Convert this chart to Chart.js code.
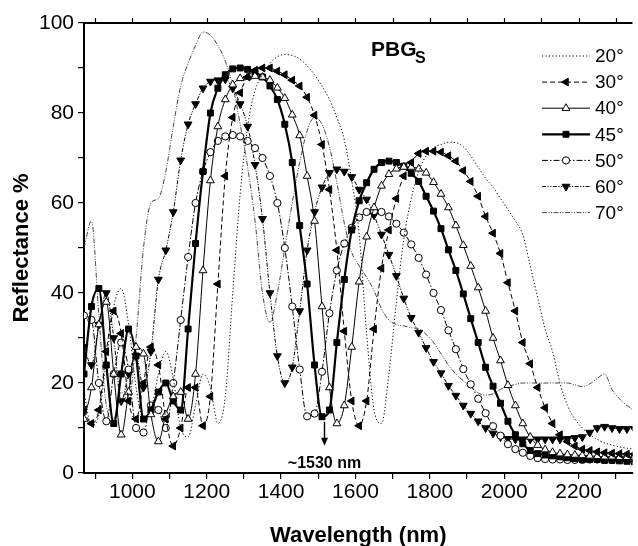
<!DOCTYPE html>
<html>
<head>
<meta charset="utf-8">
<script src="https://cdn.jsdelivr.net/npm/chart.js@4"></script>
<style>
html, body { margin: 0; padding: 0; background: #fff; }
#wrap { width: 638px; height: 546px; }
</style>
</head>
<body>
<div id="wrap"><canvas id="chart" width="638" height="546"></canvas></div>
<script>
// wavelength grid (nm) shared by all curves
const wavelengths = [870, 890, 910, 930, 950, 970, 990, 1010, 1030, 1050,
    1070, 1090, 1110, 1130, 1150, 1170, 1190, 1210, 1230, 1250,
    1270, 1290, 1310, 1330, 1350, 1370, 1390, 1410, 1430, 1450,
    1470, 1490, 1510, 1530, 1550, 1570, 1590, 1610, 1630, 1650,
    1670, 1690, 1710, 1730, 1750, 1770, 1790, 1810, 1830, 1850,
    1870, 1890, 1910, 1930, 1950, 1970, 1990, 2010, 2030, 2050,
    2070, 2090, 2110, 2130, 2150, 2170, 2190, 2210, 2230, 2250,
    2270, 2290, 2310, 2330, 2350];

const r20 = [18, 10.5, 13, 25, 37, 41, 33, 19, 12, 14,
    22, 27, 21, 10, 8, 15, 22, 19, 11, 17,
    40, 62, 77, 85, 88.5, 91, 92.5, 93, 92.8, 92,
    90.5, 88.5, 86, 83, 79, 74, 65, 53, 31, 14,
    11, 22, 38, 52, 61, 67, 70.5, 72.3, 73, 73.5,
    73.4, 72.5, 70.5, 68, 65.5, 63.5, 61, 58.5, 56, 53,
    46, 39, 32, 27, 20, 15, 12, 10, 8.5, 7.5,
    6.7, 6.2, 5.8, 5.5, 5.3];

const r30 = [14, 11, 14, 27, 36, 31, 16, 12, 20, 28,
    24, 12, 6, 10, 19, 19, 10.5, 17, 42, 66,
    79, 84.5, 88, 89.5, 90, 90, 89.3, 88.5, 87.3, 86,
    83.5, 79.5, 73, 63, 49.5, 31.5, 16, 10.5, 16, 32,
    45.5, 54, 61, 66, 69, 71, 71.5, 71.5, 71.3, 70.5,
    69.3, 67.2, 64.8, 61.5, 57, 53.3, 48.8, 42.3, 36, 29,
    24.3, 19, 14.5, 11, 8.5, 7, 6, 5.3, 5, 4.7,
    4.5, 4.4, 4.3, 4.2, 4.2];

const r40 = [12, 19, 33, 38, 22, 8.5, 18, 28, 26.5, 13,
    7, 13, 17, 18, 12, 22, 45, 65, 77, 83,
    86.3, 87.7, 88, 88.2, 88, 87.3, 85.6, 83.3, 79.6, 75,
    66, 56, 37, 19, 11, 15, 28, 42.5, 52.5, 59,
    63.8, 66.4, 67.6, 68, 68, 67.6, 66.7, 64.6, 62, 59,
    55, 50.6, 46, 41.2, 36, 30, 25, 19.5, 15, 11,
    8, 6.2, 5.2, 4.6, 4.3, 4.1, 4, 3.9, 3.8, 3.7,
    3.6, 3.6, 3.5, 3.5, 3.5];

const r45 = [22, 37, 41, 24, 11, 22, 32, 26, 12, 14,
    18, 20, 16, 14, 32, 51, 67, 80, 85.5, 88.5,
    89.8, 90, 89.7, 89, 88, 86, 83, 77.5, 69, 55,
    42, 24, 12.5, 14, 29, 43, 54, 60.5, 64.5, 67.5,
    69, 69.3, 69, 68.2, 66.6, 64.8, 61.5, 58.2, 54.3, 49.6,
    45, 39.8, 34.3, 29, 23.5, 19.3, 15.5, 11.5, 8.5, 6.5,
    5, 4.3, 4, 3.8, 3.6, 3.4, 3.2, 3, 3, 3,
    2.8, 2.8, 2.7, 2.6, 2.5];

const r50 = [35, 34, 20, 11.5, 22, 29, 23, 10, 9, 15,
    14, 10, 20, 34, 48, 60, 67, 71.3, 73.8, 74.8,
    75.1, 74.8, 73.8, 72.2, 70, 66, 60, 50, 37, 23,
    12.6, 13.2, 22.5, 35.5, 45, 51, 54.5, 56.8, 58, 58.2,
    58, 57, 55.4, 53.4, 50.8, 47.8, 44.1, 40, 36.2, 31.7,
    27.5, 23.1, 19.7, 16.5, 13.3, 10.4, 8.3, 6.4, 5.3, 4.5,
    3.8, 3.3, 3.1, 3, 3, 2.9, 2.9, 2.9, 3, 3,
    3, 3.1, 3.2, 3.3, 3.4];

const r60 = [28, 24, 33, 40, 30, 16, 22, 26, 19, 27,
    43, 49.5, 58, 69.5, 77.5, 82, 85.5, 87, 87.3, 87.5,
    85.5, 82, 77, 68.5, 56.5, 40, 26, 20, 23.5, 36,
    49.5, 58, 63.5, 66.7, 67.5, 67, 65.8, 63, 60.8, 57.3,
    53, 48.5, 43.8, 38.8, 34.5, 31.2, 27.8, 24.7, 22.2, 19.4,
    17.2, 15, 13.2, 11.5, 10, 8.8, 8, 7.6, 7.5, 7.5,
    7.5, 7.5, 7.5, 7.5, 7.5, 7.6, 7.8, 8, 9, 10,
    10.3, 10, 9.8, 9.8, 9.8];

const r70 = [50, 56, 35, 15, 12, 18, 16, 30, 50, 60,
    61, 67, 77, 86, 91, 95, 98, 97.3, 95, 91.5,
    86, 77.5, 68, 56, 40, 33.5, 40, 50, 60, 69,
    76, 79, 77.5, 72.5, 64.5, 55.5, 49, 46, 43.5, 40.5,
    36.5, 34, 33, 32.7, 32.3, 32, 30.8, 29, 26.5, 24,
    22, 20.5, 19.2, 17.8, 17.3, 17.6, 18.6, 19.2, 19.7, 20,
    20, 20, 20, 20, 20, 20, 19.6, 19.2, 19.8, 21,
    22, 18.5, 16.5, 15, 13.8];

const angleLabels = ['20°', '30°', '40°', '45°', '50°', '60°', '70°'];
const xTickLabels = [1000, 1200, 1400, 1600, 1800, 2000, 2200];
const yTickLabels = [0, 20, 40, 60, 80, 100];
const minimumLabel = '~1530 nm';
const minimumAt = 1515;
const minimumValue = 12.5;

const FONT = '"Liberation Sans", Arial, Helvetica, sans-serif';

function toPoints(values) {
    return wavelengths.map((w, i) => ({ x: w, y: values[i] }));
}

function makeSet(label, values, style) {
    return Object.assign({
        label: label,
        data: toPoints(values),
        borderColor: '#000',
        backgroundColor: '#000',
        borderWidth: 1,
        pointRadius: 0,
        pointBorderColor: '#000',
        pointBorderWidth: 1,
        pointBackgroundColor: '#000',
        cubicInterpolationMode: 'monotone',
        fill: false
    }, style);
}

const datasets = [
    makeSet(angleLabels[0], r20, { borderDash: [1.2, 2.2], borderWidth: 1 }),
    makeSet(angleLabels[1], r30, { borderDash: [5, 3], pointStyle: 'triangle', pointRotation: 270, pointRadius: 4.5 }),
    makeSet(angleLabels[2], r40, { pointStyle: 'triangle', pointRadius: 4.5, pointBackgroundColor: '#fff' }),
    makeSet(angleLabels[3], r45, { borderWidth: 2.2, pointStyle: 'rect', pointRadius: 4.2 }),
    makeSet(angleLabels[4], r50, { borderDash: [6, 2, 1.5, 2], pointStyle: 'circle', pointRadius: 3.6, pointBackgroundColor: '#fff' }),
    makeSet(angleLabels[5], r60, { borderDash: [4, 1.5, 1.2, 1.5, 1.2, 1.5], pointStyle: 'triangle', pointRotation: 180, pointRadius: 4.5 }),
    makeSet(angleLabels[6], r70, { borderDash: [5, 1.5, 1, 1.5, 1, 1.5], borderWidth: 0.9, borderColor: '#333' })
];

// frame, top ticks, legend, labels
const decorations = {
    id: 'decorations',
    afterDraw(chart) {
        const { ctx, chartArea: a, scales: { x, y } } = chart;
        ctx.save();
        ctx.strokeStyle = '#000';
        ctx.lineWidth = 2;
        ctx.beginPath();
        ctx.moveTo(a.left, a.top);
        ctx.lineTo(a.right, a.top);
        ctx.stroke();
        ctx.lineWidth = 1.2;
        ctx.beginPath();
        for (let v = 900; v <= 2300; v += 100) {
            const px = Math.round(x.getPixelForValue(v)) + 0.5;
            ctx.moveTo(px, a.top);
            ctx.lineTo(px, a.top - 5);
        }
        ctx.stroke();

        // legend
        const rowY0 = 56, rowStep = 26.1;
        chart.data.datasets.forEach((ds, i) => {
            const ry = rowY0 + i * rowStep;
            ctx.save();
            ctx.strokeStyle = ds.borderColor;
            ctx.lineWidth = ds.borderWidth;
            ctx.setLineDash(ds.borderDash || []);
            ctx.beginPath();
            ctx.moveTo(542, ry);
            ctx.lineTo(590, ry);
            ctx.stroke();
            ctx.setLineDash([]);
            if (ds.pointRadius > 0) {
                ctx.fillStyle = ds.pointBackgroundColor;
                ctx.strokeStyle = '#000';
                ctx.lineWidth = 1;
                Chart.helpers.drawPoint(ctx, {
                    pointStyle: ds.pointStyle,
                    rotation: ds.pointRotation || 0,
                    radius: ds.pointRadius,
                    borderWidth: 1
                }, 566, ry);
            }
            ctx.restore();
            ctx.fillStyle = '#000';
            ctx.font = '19px ' + FONT;
            ctx.textBaseline = 'middle';
            ctx.textAlign = 'left';
            ctx.fillText(ds.label, 595, ry + 1);
        });

        // PBG_S
        ctx.fillStyle = '#000';
        ctx.textBaseline = 'alphabetic';
        ctx.font = 'bold 21px ' + FONT;
        ctx.fillText('PBG', 371, 56);
        ctx.font = 'bold 16px ' + FONT;
        ctx.fillText('S', 415, 63);

        // arrow to the minimum
        const ax = Math.round(x.getPixelForValue(minimumAt)) + 0.5;
        const ay0 = y.getPixelForValue(minimumValue) + 5;
        const ay1 = y.getPixelForValue(minimumValue) + 29;
        ctx.strokeStyle = '#000';
        ctx.lineWidth = 1.4;
        ctx.beginPath();
        ctx.moveTo(ax, ay0);
        ctx.lineTo(ax, ay1 - 6);
        ctx.stroke();
        ctx.beginPath();
        ctx.moveTo(ax - 3.5, ay1 - 8);
        ctx.lineTo(ax + 3.5, ay1 - 8);
        ctx.lineTo(ax, ay1);
        ctx.closePath();
        ctx.fill();
        ctx.font = 'bold 16px ' + FONT;
        ctx.textAlign = 'center';
        ctx.textBaseline = 'middle';
        ctx.fillText(minimumLabel, ax, a.bottom - 9);
        ctx.restore();
    }
};

new Chart(document.getElementById('chart').getContext('2d'), {
    type: 'line',
    data: { datasets: datasets },
    options: {
        responsive: false,
        animation: false,
        devicePixelRatio: 1,
        layout: { padding: { top: 23, right: 0, bottom: 0, left: 0 } },
        plugins: {
            legend: { display: false },
            tooltip: { enabled: false }
        },
        scales: {
            x: {
                type: 'linear',
                min: 870,
                max: 2345,
                ticks: {
                    stepSize: 100,
                    includeBounds: false,
                    autoSkip: false,
                    maxRotation: 0,
                    color: '#000',
                    padding: 1,
                    font: { family: FONT, size: 21 },
                    callback: v => xTickLabels.includes(v) ? String(v) : ''
                },
                grid: { drawOnChartArea: false, drawTicks: true, tickLength: 6, color: '#000', lineWidth: 1.2 },
                border: { display: true, color: '#000', width: 2 },
                title: {
                    display: true,
                    text: 'Wavelength (nm)',
                    color: '#000',
                    font: { family: FONT, size: 22, weight: 'bold' },
                    padding: { top: 0, bottom: -3 }
                },
                afterFit: s => { s.height = 73; }
            },
            y: {
                min: 0,
                max: 100,
                ticks: {
                    stepSize: 10,
                    color: '#000',
                    padding: 4,
                    font: { family: FONT, size: 21 },
                    callback: v => yTickLabels.includes(v) ? String(v) : ''
                },
                grid: { drawOnChartArea: false, drawTicks: true, tickLength: 6, color: '#000', lineWidth: 1.2 },
                border: { display: true, color: '#000', width: 2 },
                title: {
                    display: true,
                    text: 'Reflectance %',
                    color: '#000',
                    font: { family: FONT, size: 22, weight: 'bold' },
                    padding: { top: 9, bottom: 4 }
                },
                afterFit: s => { s.width = 84; }
            }
        }
    },
    plugins: [decorations]
});
</script>
</body>
</html>
